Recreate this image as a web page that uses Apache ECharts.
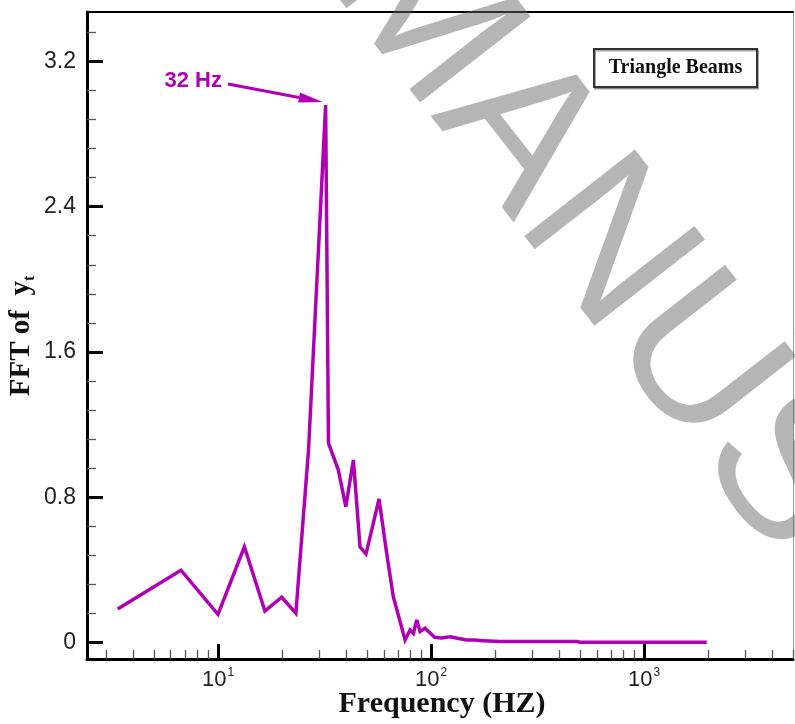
<!DOCTYPE html>
<html>
<head>
<meta charset="utf-8">
<script src="https://cdn.jsdelivr.net/npm/echarts@6/dist/echarts.min.js"></script>
<style>
  html, body { margin: 0; padding: 0; background: #fff; }
  #chart { width: 795px; height: 724px; }
</style>
</head>
<body>
<div id="chart"></div>
<script>
// FFT spectrum of the tip displacement y_t (triangle beams)
const frequency = [3.38, 6.7, 10.0, 13.3, 16.6, 19.9, 23.2, 26.6, 32, 33.0, 36.7, 39.8, 43.2, 46.4, 49.5,
  57.0, 61.9, 66.5, 75.5, 79.7, 82.6, 85.7, 88.8, 93.7, 104, 112, 123, 135, 147, 160, 175, 211, 301, 483, 500, 887, 1968];
const fftAmplitude = [0.184, 0.398, 0.155, 0.527, 0.173, 0.249, 0.161, 1.06, 2.96, 1.098, 0.95, 0.748, 1.005, 0.527, 0.487,
  0.790, 0.491, 0.252, 0.014, 0.069, 0.05, 0.124, 0.06, 0.078, 0.029, 0.025, 0.032, 0.022, 0.014, 0.013, 0.010, 0.005, 0.005, 0.005, 0.001, 0.001, 0.001];

const yMajorTicks = [0, 0.8, 1.6, 2.4, 3.2];
const yMinorTicks = [0.16, 0.32, 0.48, 0.64, 0.96, 1.12, 1.28, 1.44, 1.76, 1.92, 2.08, 2.24, 2.56, 2.72, 2.88, 3.04, 3.36];
const xMajorExponents = [1, 2, 3];
const xMinorTicks = [3, 4, 5, 6, 7, 8, 9, 20, 30, 40, 50, 60, 70, 80, 90,
  200, 300, 400, 500, 600, 700, 800, 900, 2000, 3000, 4000, 5000];
const xRange = [2.427, 5000];
const yRange = [-0.091, 3.472];
const peakFrequency = 32;
const peakLabel = '32 Hz';
const legendLabel = 'Triangle Beams';

const LINE_COLOR = '#b000b4';
const SANS = '"Liberation Sans", Arial, sans-serif';
const SERIF = '"Liberation Serif", "Times New Roman", serif';

const chart = echarts.init(document.getElementById('chart'), null, { renderer: 'canvas' });

const logMin = Math.log10(xRange[0]);
const logMax = Math.log10(xRange[1]);
const noSplit = { show: false };

function helperX(extra) {
  return Object.assign({
    type: 'value', position: 'bottom', min: logMin, max: logMax,
    axisLine: { show: false, onZero: false }, splitLine: noSplit,
    axisLabel: { show: false }
  }, extra);
}

const option = {
  backgroundColor: '#fff',
  animation: false,
  grid: { left: 87, right: 2, top: 12, bottom: 65, containLabel: false },
  xAxis: [
    {
      type: 'log', logBase: 10, min: xRange[0], max: xRange[1], position: 'bottom',
      axisLine: { onZero: false, lineStyle: { color: '#000', width: 3 } },
      axisTick: { show: false }, axisLabel: { show: false }, splitLine: noSplit, minorTick: { show: false }
    },
    helperX({
      axisTick: { show: true, inside: true, length: 15, customValues: xMajorExponents,
        lineStyle: { color: '#000', width: 3 } },
      axisLabel: {
        show: true, customValues: xMajorExponents, margin: 8,
        formatter: v => '{b|10}{s|' + Math.round(v) + '}',
        rich: {
          b: { fontSize: 22, fontFamily: SANS, color: '#222', lineHeight: 26 },
          s: { fontSize: 12, fontFamily: SANS, color: '#222', lineHeight: 26, verticalAlign: 'top', padding: [0, 0, 12, 1] }
        }
      }
    }),
    helperX({
      axisTick: { show: true, inside: true, length: 9, customValues: xMinorTicks.map(Math.log10),
        lineStyle: { color: '#555', width: 1.3 } }
    }),
    {
      type: 'value', position: 'top', min: 0, max: 1,
      axisLine: { onZero: false, lineStyle: { color: '#000', width: 2 } },
      axisTick: { show: false }, axisLabel: { show: false }, splitLine: noSplit
    }
  ],
  yAxis: [
    {
      type: 'value', position: 'left', min: yRange[0], max: yRange[1],
      axisLine: { onZero: false, lineStyle: { color: '#000', width: 3 } },
      axisTick: { show: true, inside: true, length: 16, customValues: yMajorTicks,
        lineStyle: { color: '#000', width: 3 } },
      axisLabel: {
        show: true, customValues: yMajorTicks, margin: 11,
        fontSize: 23, fontFamily: SANS, color: '#222',
        formatter: v => (v === 0 ? '0' : v.toFixed(1))
      },
      splitLine: noSplit
    },
    {
      type: 'value', position: 'left', min: yRange[0], max: yRange[1],
      axisLine: { show: false, onZero: false },
      axisTick: { show: true, inside: true, length: 9, customValues: yMinorTicks,
        lineStyle: { color: '#555', width: 1.3 } },
      axisLabel: { show: false }, splitLine: noSplit
    },
    {
      type: 'value', position: 'right', min: 0, max: 1,
      axisLine: { onZero: false, lineStyle: { color: '#999', width: 1 } },
      axisTick: { show: false }, axisLabel: { show: false }, splitLine: noSplit
    }
  ],
  series: [{
    type: 'line',
    xAxisIndex: 0, yAxisIndex: 0,
    data: frequency.map((f, i) => [f, fftAmplitude[i]]),
    showSymbol: false, symbol: 'none',
    lineStyle: { color: LINE_COLOR, width: 3.5, join: 'miter', miterLimit: 3 },
    z: 3
  }]
};

chart.setOption(option);

// annotation arrow pointing at the spectral peak
const peakIdx = frequency.indexOf(peakFrequency);
const peakPx = chart.convertToPixel({ seriesIndex: 0 }, [peakFrequency, fftAmplitude[peakIdx]]);
const tip = [peakPx[0] - 3, peakPx[1] - 3];
const start = [228, 84];
const dx = tip[0] - start[0], dy = tip[1] - start[1];
const len = Math.hypot(dx, dy);
const ux = dx / len, uy = dy / len;
const headLen = 24, headHalf = 5;
const base = [tip[0] - ux * headLen, tip[1] - uy * headLen];

const rad = -52 * Math.PI / 180;

chart.setOption({
  graphic: [
    {
      type: 'line', z: 10,
      shape: { x1: start[0], y1: start[1], x2: base[0], y2: base[1] },
      style: { stroke: LINE_COLOR, lineWidth: 3 }
    },
    {
      type: 'polygon', z: 10,
      shape: { points: [tip, [base[0] - uy * headHalf, base[1] + ux * headHalf], [base[0] + uy * headHalf, base[1] - ux * headHalf]] },
      style: { fill: LINE_COLOR }
    },
    {
      type: 'text', z: 10, x: 222, y: 81,
      style: { text: peakLabel, fill: LINE_COLOR, font: 'bold 22px ' + SANS, align: 'right', verticalAlign: 'middle' }
    },
    {
      type: 'rect', z: 10,
      shape: { x: 594, y: 49, width: 163, height: 38 },
      style: { fill: '#fff', stroke: '#333', lineWidth: 2, shadowColor: 'rgba(0,0,0,0.35)', shadowOffsetX: 1, shadowOffsetY: 1.5 }
    },
    {
      type: 'text', z: 11, x: 675.5, y: 68,
      style: { text: legendLabel, fill: '#111', font: 'bold 20px ' + SERIF, align: 'center', verticalAlign: 'middle' }
    },
    {
      type: 'text', z: 10, x: 22, y: 336, rotation: Math.PI / 2,
      style: {
        text: '{a|FFT of  y}{t|t}', align: 'center', verticalAlign: 'middle',
        rich: {
          a: { fontSize: 29, fontFamily: SERIF, fontWeight: 'bold', fill: '#111', lineHeight: 32 },
          t: { fontSize: 16, fontFamily: SERIF, fontWeight: 'bold', fill: '#111', lineHeight: 32, verticalAlign: 'bottom' }
        }
      }
    },
    {
      type: 'text', z: 10, x: 442, y: 704,
      style: { text: 'Frequency (HZ)', fill: '#111', font: 'bold 30px ' + SERIF, align: 'center', verticalAlign: 'middle' }
    },
    {
      type: 'text', z: 50, x: 370, y: -53, rotation: rad,
      style: { text: 'MANUSCRIPT', fill: 'rgba(100,100,100,0.48)', font: 'normal 204px ' + SANS, align: 'left', verticalAlign: 'middle' }
    }
  ]
});
</script>
</body>
</html>
